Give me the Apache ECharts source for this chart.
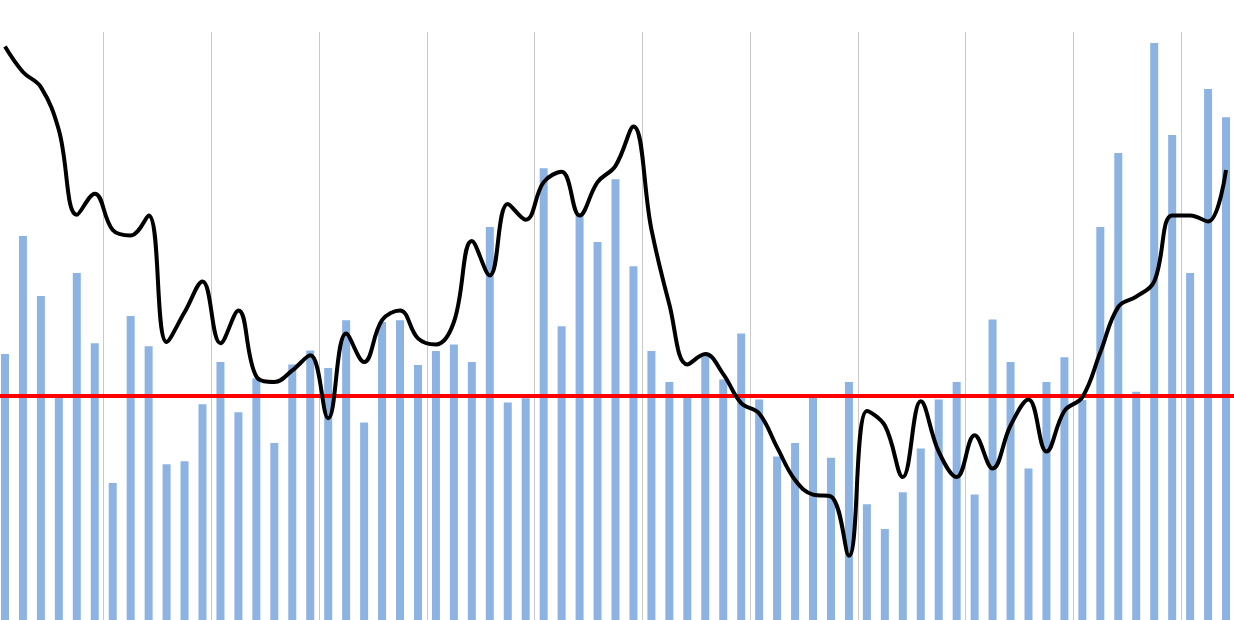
<!DOCTYPE html>
<html>
<head>
<meta charset="utf-8">
<script src="https://cdn.jsdelivr.net/npm/echarts@6/dist/echarts.min.js"></script>
<style>
    html, body { margin: 0; padding: 0; background: #ffffff; overflow: hidden; width: 1234px; height: 620px; }
    #chart { position: absolute; left: -4px; top: 0; width: 1239px; height: 698px; }
</style>
</head>
<body>
<div id="chart"></div>
<script>
// monthly index readings (bars)
const barValues = [
    50.68, 52.63, 51.64, 50.00, 52.02, 50.86, 48.55, 51.31, 50.81, 48.86,
    48.91, 49.85, 50.55, 49.72, 50.28, 49.21, 50.51, 50.74, 50.45, 51.24,
    49.55, 51.21, 51.24, 50.50, 50.73, 50.84, 50.55, 52.78, 49.88, 49.95,
    53.75, 51.14, 53.00, 52.53, 53.57, 52.13, 50.73, 50.22, 49.97, 50.66,
    50.26, 51.02, 49.93, 48.99, 49.21, 49.97, 48.97, 50.22, 48.20, 47.79,
    48.40, 49.12, 49.93, 50.22, 48.36, 51.25, 50.55, 48.79, 50.22, 50.63,
    49.92, 52.78, 54.00, 50.06, 55.82, 54.30, 52.02, 55.06, 54.59
];

// the black trend line
const trendValues = [
    55.76, 55.34, 55.09, 54.38, 52.98, 53.33, 52.73, 52.64, 52.97, 50.88,
    51.37, 51.88, 50.86, 51.40, 50.31, 50.22, 50.41, 50.66, 49.62, 51.02,
    50.55, 51.24, 51.40, 50.94, 50.84, 51.21, 52.55, 51.98, 53.16, 52.90,
    53.52, 53.69, 52.97, 53.52, 53.79, 54.44, 52.74, 51.50, 50.51, 50.68,
    50.35, 49.87, 49.70, 49.14, 48.60, 48.36, 48.33, 47.35, 49.74, 49.50,
    48.65, 49.90, 49.07, 48.65, 49.34, 48.79, 49.50, 49.93, 49.07, 49.74,
    49.97, 50.71, 51.46, 51.63, 51.88, 52.97, 52.97, 52.87, 53.72
];

// red reference level
const referenceLevel = 50;

// one category per bar, labels are cut off in the picture
const categories = barValues.map((v, i) => String(i + 1));

const chart = echarts.init(document.querySelector("#chart"));

chart.setOption({
    animation: false,
    grid: { left: 0, right: 0, top: 32, bottom: 0 },
    xAxis: {
        type: 'category',
        data: categories,
        axisLine: { show: false },
        axisTick: { show: false },
        axisLabel: { show: false },
        splitLine: {
            show: true,
            interval: (index) => index > 0 && index % 6 === 0,
            lineStyle: { color: '#c9c9c9', width: 1 }
        }
    },
    yAxis: {
        type: 'value',
        min: 45,
        max: 56,
        show: false,
        splitLine: { show: false }
    },
    series: [
        {
            type: 'bar',
            data: barValues,
            barWidth: 8,
            itemStyle: { color: '#8db3e2' },
            z: 2,
            markLine: {
                silent: true,
                symbol: 'none',
                label: { show: false },
                lineStyle: { color: '#ff0000', width: 4, type: 'solid' },
                data: [{ yAxis: referenceLevel }]
            }
        },
        {
            type: 'line',
            data: trendValues,
            smooth: 0.4,
            showSymbol: false,
            lineStyle: { color: '#000000', width: 4 },
            z: 10
        }
    ]
});
</script>
</body>
</html>
